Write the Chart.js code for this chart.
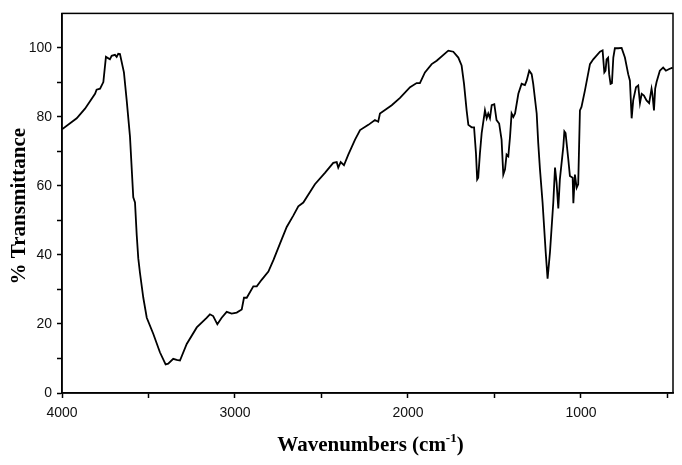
<!DOCTYPE html>
<html>
<head>
<meta charset="utf-8">
<script src="https://cdn.jsdelivr.net/npm/chart.js@4/dist/chart.umd.min.js"></script>
<style>
  html, body { margin: 0; padding: 0; background: #fff; }
  #wrap { width: 682px; height: 465px; }
</style>
</head>
<body>
<div id="wrap"><canvas id="irChart"></canvas></div>
<script>
// wavenumbers (cm-1) and % transmittance
var wavenumbers = [4000, 3915, 3867, 3809, 3800, 3780, 3761, 3746, 3723, 3713, 3694, 3684, 3675, 3665, 3642, 3626, 3607, 3588,
  3578, 3568, 3559, 3549, 3530, 3510, 3472, 3434, 3401, 3386, 3357, 3337, 3318, 3279, 3221, 3164, 3145, 3126, 3102, 3077,
  3048, 3019, 2990, 2961, 2948, 2932, 2894, 2874, 2846, 2807, 2778, 2740, 2701, 2663, 2634, 2605, 2538, 2480, 2432, 2412,
  2403, 2389, 2370, 2345, 2306, 2277, 2229, 2191, 2172, 2162, 2094, 2046, 1988, 1950, 1931, 1902, 1863, 1834, 1767, 1738,
  1709, 1690, 1676, 1661, 1651, 1632, 1618, 1607, 1600, 1594, 1584, 1574, 1555, 1545, 1536, 1526, 1516, 1501, 1488, 1473,
  1459, 1449, 1439, 1430, 1420, 1410, 1401, 1391, 1381, 1362, 1343, 1324, 1314, 1299, 1285, 1276, 1256, 1247, 1237, 1222,
  1204, 1193, 1179, 1160, 1150, 1141, 1131, 1122, 1102, 1096, 1089, 1073, 1064, 1048, 1044, 1035, 1025, 1016, 1006, 997,
  977, 948, 929, 890, 875, 865, 858, 852, 843, 837, 829, 821, 813, 804, 785, 765, 746, 727, 717, 707, 698, 682, 669, 659,
  649, 636, 621, 606, 592, 587, 578, 571, 563, 544, 525, 509, 490, 470];
var transmittance = [76.4, 79.6, 82.4, 86.7, 87.9, 88.2, 90.1, 97.4, 96.7, 97.7, 98.0, 97.4, 98.3, 98.2, 92.9, 84.8, 74.3, 56.7,
  55.2, 45.7, 39.0, 34.7, 27.6, 21.8, 17.1, 11.8, 8.3, 8.5, 9.9, 9.6, 9.4, 14.2, 19.0, 21.8, 22.8, 22.3, 19.9, 21.8,
  23.5, 23.0, 23.3, 24.2, 27.6, 27.6, 30.9, 30.9, 32.8, 35.2, 38.5, 43.3, 48.1, 51.4, 54.1, 55.2, 60.5, 63.8, 66.7, 66.9,
  65.3, 66.9, 66.0, 69.1, 73.4, 76.2, 77.7, 79.1, 78.6, 81.0, 83.4, 85.5, 88.6, 89.8, 89.8, 92.9, 95.3, 96.3, 99.2, 98.9,
  97.2, 94.9, 89.6, 81.9, 77.7, 77.0, 77.0, 69.5, 61.9, 62.4, 69.5, 75.3, 81.9, 79.6, 81.0, 79.6, 83.4, 83.7, 79.1, 78.1,
  73.4, 63.3, 64.8, 69.1, 68.6, 74.3, 81.0, 80.0, 81.0, 86.7, 89.6, 89.2, 90.5, 93.4, 92.4, 89.6, 81.0, 72.4, 64.8, 55.2,
  40.9, 33.1, 40.9, 55.2, 65.3, 61.0, 53.5, 61.9, 71.4, 75.8, 75.3, 67.6, 62.9, 62.4, 55.0, 63.3, 59.5, 60.5, 81.9, 82.9,
  87.7, 95.3, 96.7, 98.9, 99.3, 92.9, 93.4, 96.7, 97.2, 92.4, 89.6, 89.8, 97.2, 99.9, 99.9, 100.0, 97.2, 92.4, 90.5, 79.6,
  84.8, 88.6, 89.1, 84.0, 86.7, 86.2, 84.8, 84.0, 88.2, 86.7, 81.9, 88.2, 90.1, 93.4, 94.3, 93.4, 93.9, 94.3];

var xTicks = [4000, 3500, 3000, 2500, 2000, 1500, 1000, 500];
var yTicks = [0, 10, 20, 30, 40, 50, 60, 70, 80, 90, 100];

var points = wavenumbers.map(function (w, i) { return { x: w, y: transmittance[i] }; });

// frame + axis titles
var framePlugin = {
  id: 'frame',
  afterDraw: function (chart) {
    var c = chart.ctx, a = chart.chartArea;
    c.save();
    c.strokeStyle = '#000';
    c.lineWidth = 1.5;
    c.strokeRect(a.left, a.top, a.right - a.left, a.bottom - a.top);

    c.fillStyle = '#000';
    c.textBaseline = 'alphabetic';
    // x title with superscript
    var big = 'bold 21px "Liberation Serif", "Times New Roman", serif';
    var small = 'bold 13px "Liberation Serif", "Times New Roman", serif';
    var t1 = 'Wavenumbers (cm', t2 = '-1', t3 = ')';
    c.font = big; var w1 = c.measureText(t1).width, w3 = c.measureText(t3).width;
    c.font = small; var w2 = c.measureText(t2).width;
    var x0 = (a.left + a.right) / 2 + 3 - (w1 + w2 + w3) / 2, yb = 451;
    c.textAlign = 'left';
    c.font = big; c.fillText(t1, x0, yb);
    c.font = small; c.fillText(t2, x0 + w1, yb - 9);
    c.font = big; c.fillText(t3, x0 + w1 + w2, yb);

    // y title
    c.translate(25, (a.top + a.bottom) / 2 + 3);
    c.rotate(-Math.PI / 2);
    c.textAlign = 'center';
    c.font = 'bold 21px "Liberation Serif", "Times New Roman", serif';
    c.fillText('% Transmittance', 0, 0);
    c.restore();
  }
};

var ctx = document.getElementById('irChart').getContext('2d');
var irChart = new Chart(ctx, {
  type: 'line',
  data: {
    datasets: [{
      data: points,
      borderColor: '#000',
      borderWidth: 1.8,
      pointRadius: 0,
      tension: 0,
      fill: false
    }]
  },
  options: {
    responsive: true,
    maintainAspectRatio: false,
    animation: false,
    layout: { padding: { top: 8, right: 9, left: 0, bottom: 0 } },
    plugins: { legend: { display: false }, tooltip: { enabled: false } },
    scales: {
      x: {
        type: 'linear',
        reverse: true,
        min: 468,
        max: 4000,
        afterBuildTicks: function (s) { s.ticks = xTicks.map(function (v) { return { value: v }; }); },
        afterFit: function (s) { s.height = 72; },
        border: { color: '#000', width: 1.5 },
        grid: { drawOnChartArea: false, tickLength: 5, color: '#000', tickWidth: 1.5 },
        ticks: {
          color: '#111',
          padding: 7,
          maxRotation: 0,
          autoSkip: false,
          font: { family: '"Liberation Sans", Arial, sans-serif', size: 14 },
          callback: function (v) { return v % 1000 === 0 ? v : ''; }
        }
      },
      y: {
        min: 0,
        max: 110,
        afterBuildTicks: function (s) { s.ticks = yTicks.map(function (v) { return { value: v }; }); },
        afterFit: function (s) { s.width = 62; },
        border: { color: '#000', width: 1.5 },
        grid: { drawOnChartArea: false, tickLength: 5, color: '#000', tickWidth: 1.5 },
        ticks: {
          color: '#111',
          padding: 5,
          autoSkip: false,
          font: { family: '"Liberation Sans", Arial, sans-serif', size: 14 },
          callback: function (v) { return v % 20 === 0 ? v : ''; }
        }
      }
    }
  },
  plugins: [framePlugin]
});
</script>
</body>
</html>
